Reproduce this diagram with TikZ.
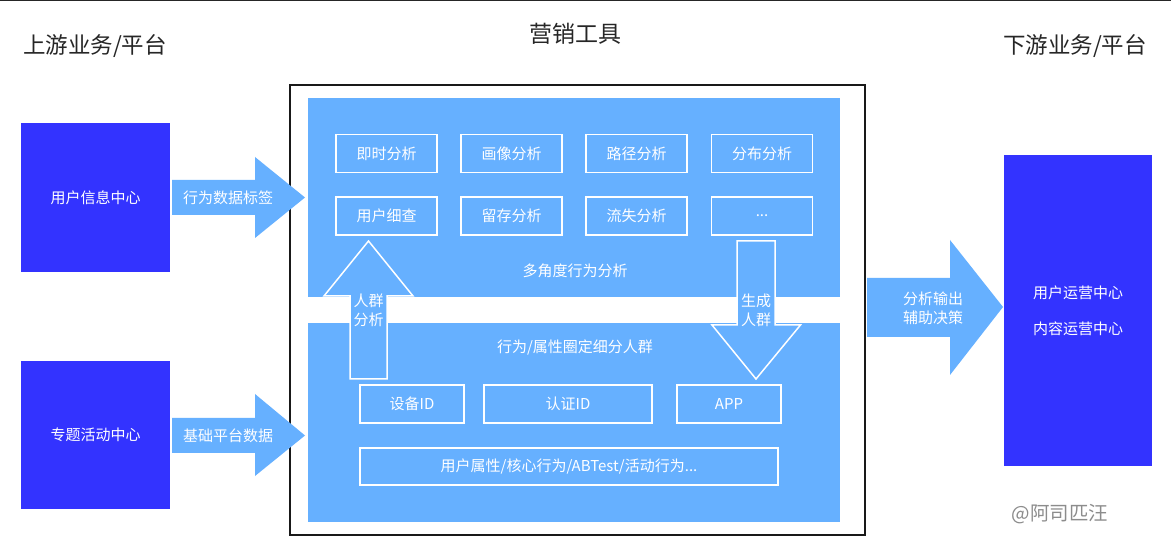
\documentclass[tikz,border=0pt]{standalone}
\usepackage{fontspec}
\setmainfont{Noto Sans CJK SC}
\definecolor{darkblue}{HTML}{3333FF}
\definecolor{lightblue}{HTML}{66B0FF}
\definecolor{wmgray}{HTML}{8C8C8C}
\tikzset{
  px/.style={x=1pt,y=-1pt},
  title/.style={font=\fontsize{22.5}{26}\selectfont, text=black!85, inner sep=0pt},
  wtext/.style={font=\fontsize{15}{19}\selectfont, text=white, inner sep=0pt, align=center},
  cbox/.style={draw=white, line width=1.3pt, minimum height=38pt, inner sep=0pt,
               font=\fontsize{15}{19}\selectfont, text=white},
  darkbox/.style={fill=darkblue, draw=none, inner sep=0pt},
  panel/.style={fill=lightblue, draw=none},
  blockarrow/.style={fill=lightblue, draw=none},
  vblockarrow/.style={fill=lightblue, draw=white, line width=1.5pt, line join=miter},
}
\begin{document}
\begin{tikzpicture}[px]
\useasboundingbox (0,0) rectangle (1171,553);
\fill[white] (0,0) rectangle (1171,553);
\fill[black!85] (0,0) rectangle (1171,1.5);

% titles
\node[title] (tl) at (95,46) {上游业务/平台};
\node[title, font=\fontsize{23}{26}\selectfont] (tc) at (575,34) {营销工具};
\node[title] (tr) at (1075,46) {下游业务/平台};

% outer frame
\draw[black!90, line width=1.2pt] (290,85) rectangle (865,535);

% panels
\fill[panel] (308,98) rectangle (840,297);
\fill[panel] (308,323) rectangle (840,522);

% upper boxes
\node[cbox, minimum width=101pt] (b11) at (386.5,153.5) {即时分析};
\node[cbox, minimum width=101pt] (b12) at (511.5,153.5) {画像分析};
\node[cbox, minimum width=101pt] (b13) at (636.5,153.5) {路径分析};
\node[cbox, minimum width=101pt] (b14) at (762,153.5) {分布分析};
\node[cbox, minimum width=101pt] (b21) at (386.5,216) {用户细查};
\node[cbox, minimum width=101pt] (b22) at (511.5,216) {留存分析};
\node[cbox, minimum width=101pt] (b23) at (636.5,216) {流失分析};
\node[cbox, minimum width=101pt] (b24) at (762,216) {...};
\node[wtext] (multi) at (575,271) {多角度行为分析};

% lower panel
\node[wtext] (seg) at (575,347) {行为/属性圈定细分人群};
\node[cbox, minimum width=104pt] (dev) at (412,404) {设备ID};
\node[cbox, minimum width=168pt] (auth) at (568,404) {认证ID};
\node[cbox, minimum width=104pt] (app) at (729,404) {APP};
\node[cbox, minimum width=418pt, minimum height=37pt] (attr) at (569,466.5) {用户属性/核心行为/ABTest/活动行为...};

% vertical block arrows
\draw[vblockarrow] (350,379) -- (350,296) -- (324,296) -- (368.5,241) -- (413,296) -- (387,296) -- (387,379) -- cycle;
\node[wtext, font=\fontsize{15}{19}\selectfont] (up) at (368.5,310) {人群\\分析};
\draw[vblockarrow] (737,241) -- (775,241) -- (775,325) -- (800.5,325) -- (756,379) -- (712,325) -- (737,325) -- cycle;
\node[wtext, font=\fontsize{15}{19}\selectfont] (down) at (756,310) {生成\\人群};

% left boxes
\node[darkbox, minimum width=149pt, minimum height=149pt, wtext] (uinfo) at (95.5,197.5) {用户信息中心};
\node[darkbox, minimum width=149pt, minimum height=148pt, wtext] (topic) at (95.5,435) {专题活动中心};

% right box
\node[darkbox, minimum width=148pt, minimum height=311pt] (rbox) at (1078,310.5) {};
\node[wtext] (uop) at (1078,292.5) {用户运营中心};
\node[wtext] (cop) at (1078,329) {内容运营中心};

% horizontal block arrows
\fill[blockarrow] (172,180) -- (255,180) -- (255,157) -- (305,197.5) -- (255,238) -- (255,215) -- (172,215) -- cycle;
\node[wtext] (a1) at (228,197.5) {行为数据标签};
\fill[blockarrow] (172,418) -- (255,418) -- (255,394) -- (305,435.5) -- (255,476) -- (255,453) -- (172,453) -- cycle;
\node[wtext] (a2) at (228,435.5) {基础平台数据};
\fill[blockarrow] (867,278) -- (950,278) -- (950,240) -- (1003,307) -- (950,375) -- (950,337) -- (867,337) -- cycle;
\node[wtext] (a3) at (933,308) {分析输出\\辅助决策};

% signature
\node[font=\fontsize{19.5}{22}\selectfont, text=wmgray, inner sep=0pt] (sig) at (1060,514) {@阿司匹汪};
\end{tikzpicture}
\end{document}
